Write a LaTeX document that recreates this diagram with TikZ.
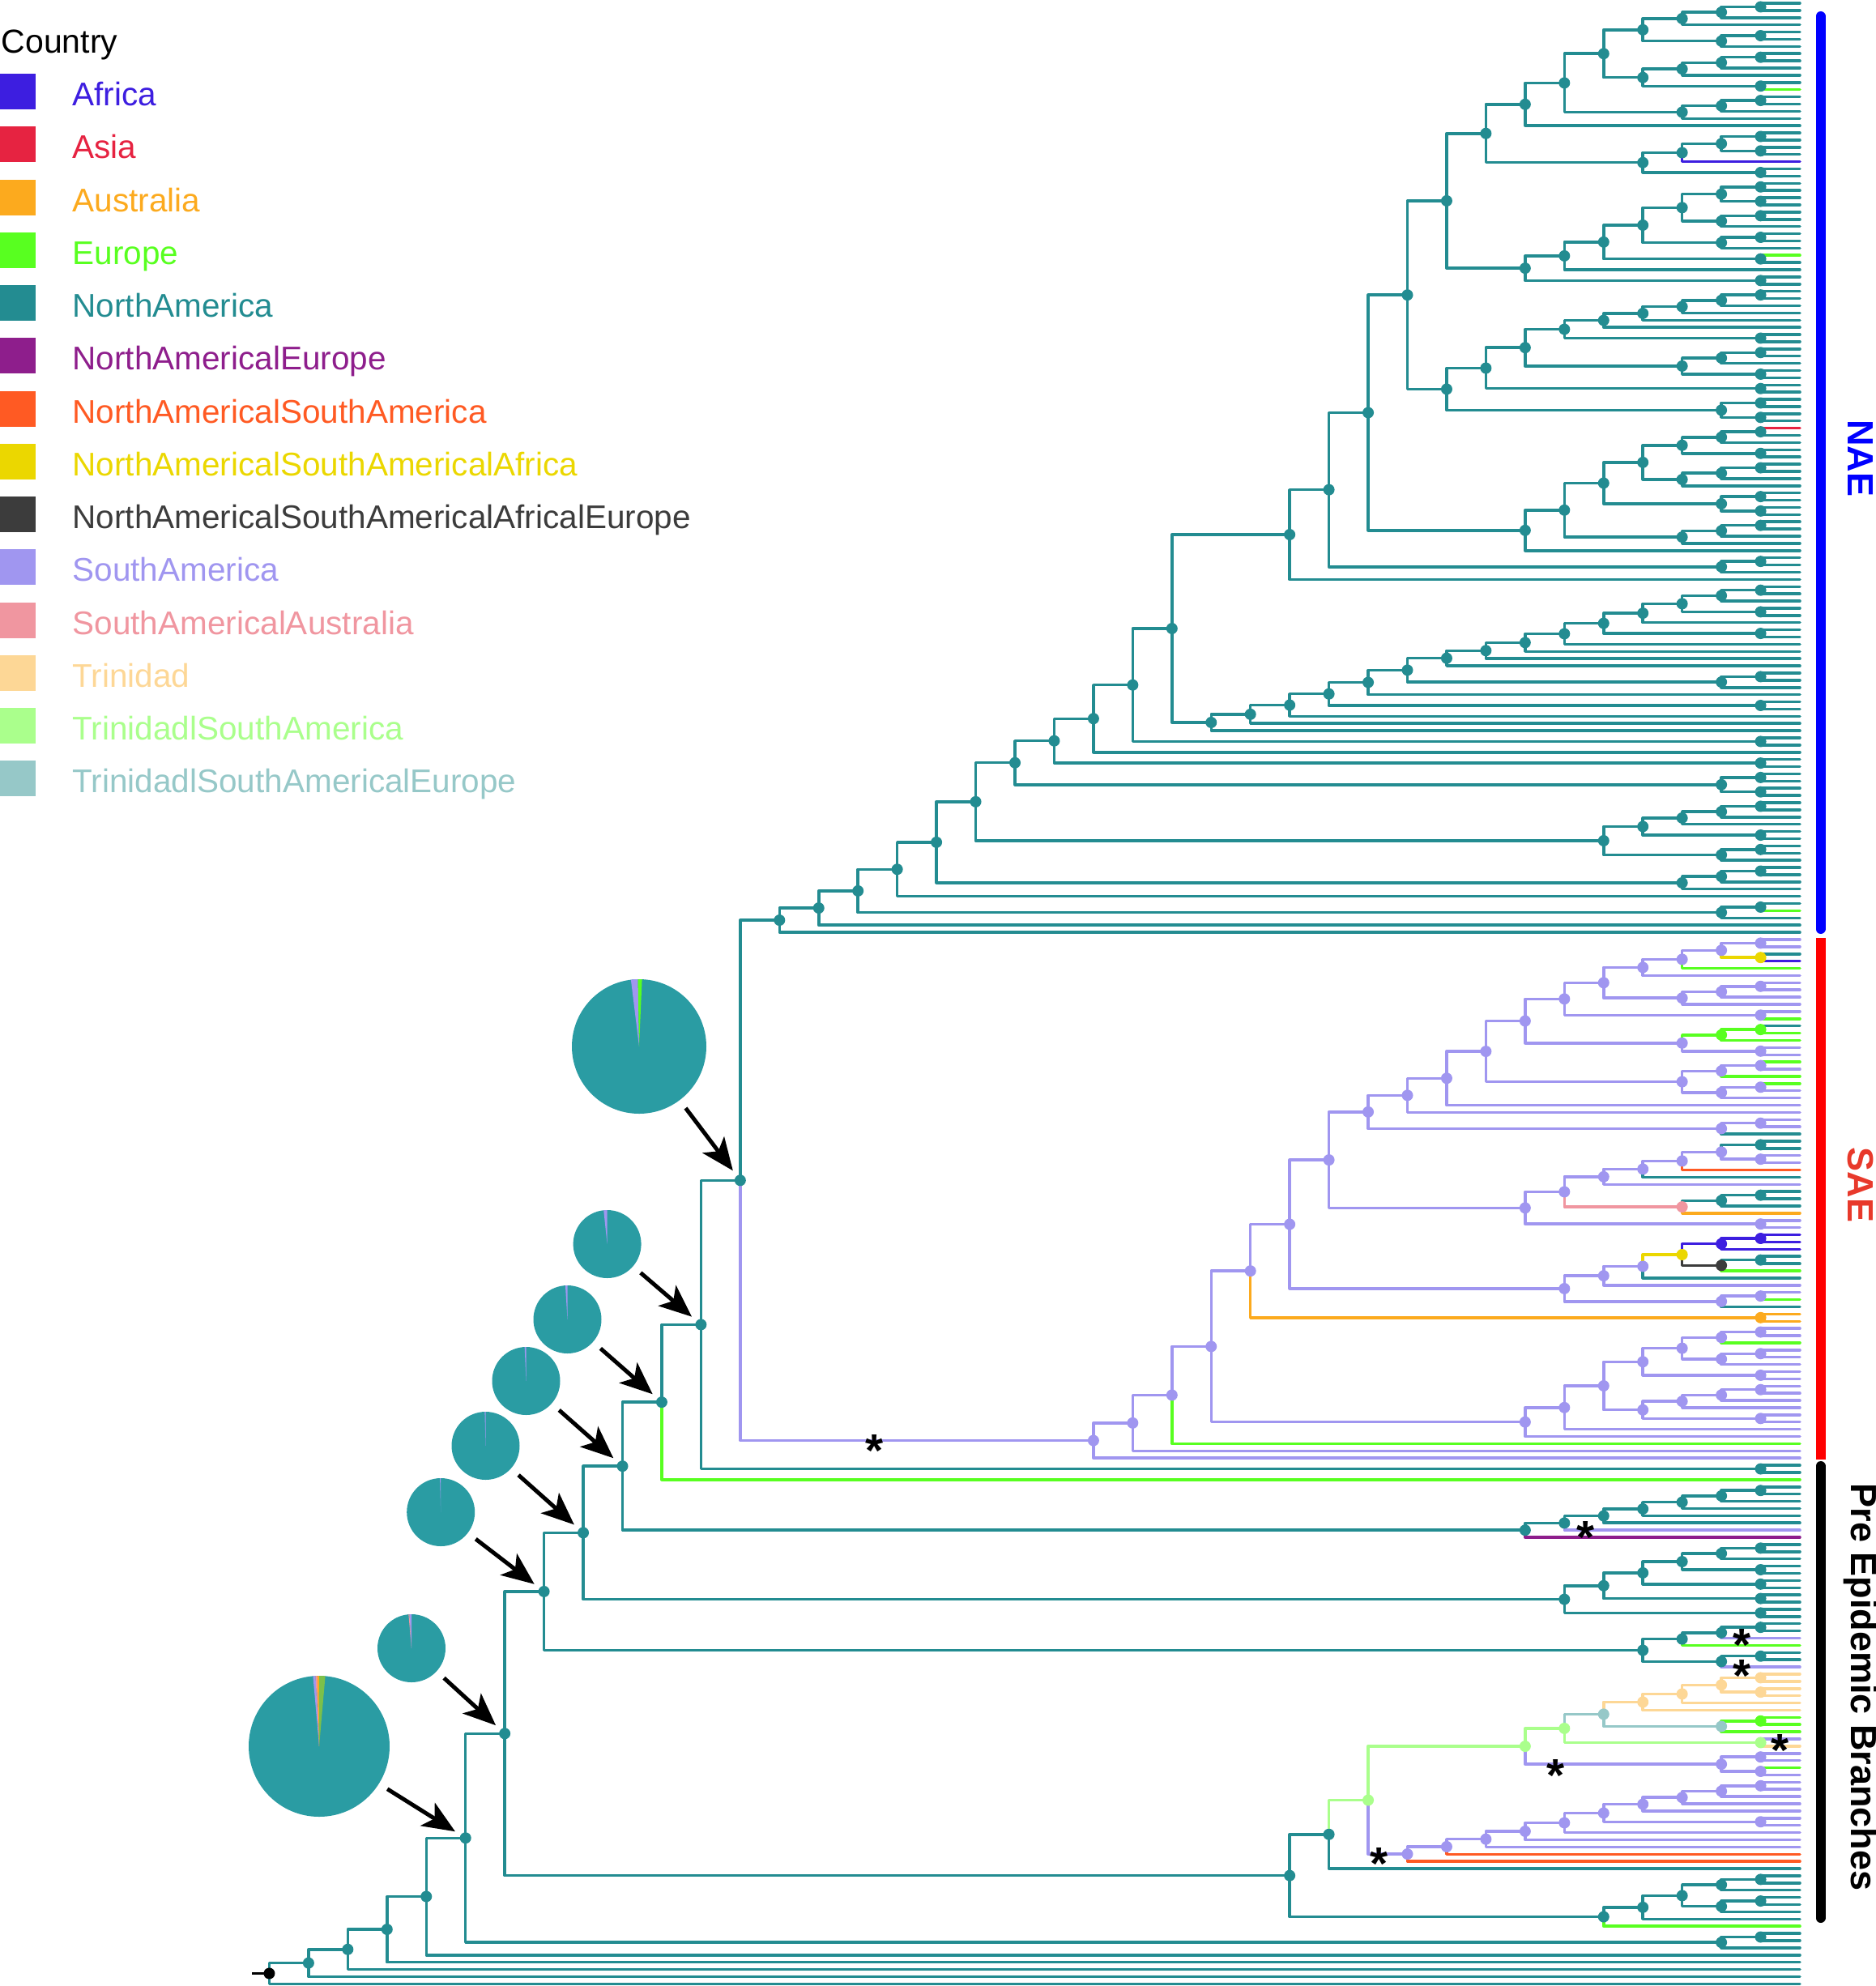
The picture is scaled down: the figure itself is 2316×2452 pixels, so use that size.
\documentclass[tikz,border=0pt]{standalone}
\usepackage{fontspec}
\setmainfont{Liberation Sans}
\usetikzlibrary{arrows.meta}
\definecolor{colB}{HTML}{3D1EE0}
\definecolor{colA}{HTML}{E62341}
\definecolor{colO}{HTML}{FCAA1E}
\definecolor{colG}{HTML}{58FF20}
\definecolor{colT}{HTML}{238C91}
\definecolor{colM}{HTML}{8E1E8C}
\definecolor{colR}{HTML}{FF5A23}
\definecolor{colY}{HTML}{EBD700}
\definecolor{colK}{HTML}{3C3C3C}
\definecolor{colP}{HTML}{A096F0}
\definecolor{colS}{HTML}{F096A0}
\definecolor{colD}{HTML}{FDD796}
\definecolor{colL}{HTML}{AAFF8C}
\definecolor{colE}{HTML}{96C8C8}
\definecolor{pieT}{HTML}{2A9CA3}
\definecolor{pieG}{HTML}{7CC04A}
\definecolor{naeC}{HTML}{0000FF}
\definecolor{saeC}{HTML}{E8392B}

\newcount\tipcnt
\newcount\nodecnt
% tip
\def\Tp#1{%
  \global\advance\tipcnt by 1
  \global\advance\nodecnt by 1
  \xdef\rY{\the\tipcnt}\xdef\rL{0}\xdef\rC{#1}\xdef\rN{n\the\nodecnt}%
  \coordinate (\rN) at (2222,{4+8.892*(\rY-1)});%
}
% internal node
\def\Nd#1#2#3{%
  \begingroup
  #2%
  \let\ya\rY \let\la\rL \let\ca\rC \let\na\rN
  #3%
  \let\yb\rY \let\lb\rL \let\cb\rC \let\nb\rN
  \pgfmathsetmacro\ny{(\ya+\yb)/2}%
  \pgfmathtruncatemacro\nl{max(\la,\lb)+1}%
  \global\advance\nodecnt by 1
  \edef\nn{n\the\nodecnt}%
  \coordinate (\nn) at ({2222-48.45*\nl},{4+8.892*(\ny-1)});%
  \draw[br,color=\ca] (\nn) |- (\na);%
  \draw[br,color=\cb] (\nn) |- (\nb);%
  \fill[color=#1] (\nn) circle[radius=2.1pt];%
  \xdef\rY{\ny}\xdef\rL{\nl}\xdef\rC{#1}\xdef\rN{\nn}%
  \endgroup}
\def\Name#1#2{#2\coordinate (#1) at (\rN);}
\def\Ch#1#2#3{\Nd{#1}{\Tp{#2}}{\Tp{#3}}}
\def\tT{\Tp{colT}}\def\tP{\Tp{colP}}\def\tG{\Tp{colG}}\def\tB{\Tp{colB}}
\def\tR{\Tp{colR}}\def\tM{\Tp{colM}}\def\tO{\Tp{colO}}\def\tD{\Tp{colD}}
\def\nT{\Nd{colT}}\def\nP{\Nd{colP}}\def\nG{\Nd{colG}}
\def\cT{\Ch{colT}{colT}{colT}}\def\cP{\Ch{colP}{colP}{colP}}
\def\lT{\nT\cT\tT}\def\lP{\nP\cP\tP}

% ---------- NAE ----------
\def\sA{\nT{\nT\lT\tT}{\lT}}
\def\sB{\nT{\nT\lT\tT}{\Ch{colT}{colT}{colG}}}
\def\sC{\nT{\nT{\nT\sA\sB}{\nT\lT\tT}}{\tT}}
\def\sD{\nT{\nT{\nT\cT\cT}{\tB}}{\cT}}
\def\sE{\nT{\nT{\nT{\nT{\nT{\nT\cT\cT}{\lT}}{\lT}}{\Ch{colT}{colG}{colT}}}{\tT}}{\cT}}
\def\sF{\nT{\sC}{\sD}}
\def\sG{\nT{\sF}{\sE}}
\def\sH{\nT{\nT{\nT{\nT{\nT{\nT\lT\tT}\tT}\tT}\cT}{\nT\lT\cT}}{\cT}}
\def\sI{\nT{\sH}{\nT\cT\cT}}
\def\sJ{\nT{\sG}{\sI}}
\def\sK{\nT{\nT{\nT{\nT{\nT{\Ch{colT}{colA}{colT}}\tT}\cT}{\nT\lT\tT}}{\nT\cT\cT}}{\nT\lT\tT}}
\def\sL{\nT{\nT{\nT{\sJ}{\nT{\sK}\tT}}{\lT}}{\tT}}
\def\sM{\nT{\nT{\nT{\nT{\nT{\nT{\nT{\nT{\nT{\nT\lT\cT}\tT}\cT}\tT}\tT}\tT}\tT}{\lT}}{\tT}}{\cT}}
\def\sN{\nT{\nT{\nT{\sM}\tT}\tT}\tT}
\def\sO{\nT{\sL}{\sN}}
\def\sP{\nT{\nT{\nT\lT\tT}\cT}{\lT}}
\def\NAE{\nT{\nT{\nT{\nT{\nT{\nT{\nT{\nT{\nT{\nT{\sO}\cT}\tT}\cT}{\nT\cT\cT}}{\sP}}{\nT\lT\tT}}\tT}{\nT{\Ch{colT}{colT}{colG}}\tT}}\tT}\tT}

% ---------- SAE ----------
\def\sa{\nP{\nP{\nP{\nP{\cP}{\Ch{colY}{colT}{colB}}}{\tG}}{\tP}}{\nP\lP\tP}}
\def\sb{\nP{\nP{\nP{\sa}{\Ch{colP}{colP}{colG}}}{\nP{\nG{\Ch{colG}{colT}{colG}}\tG}{\cP}}}{\nP{\nP{\Ch{colP}{colG}{colP}}\tG}{\nP{\Ch{colP}{colG}{colP}}\tP}}}
\def\sc{\nP{\nP{\nP{\sb}\tP}\tP}{\nP\cP\tT}}
\def\sd{\nP{\nP{\nP{\nP{\nP{\nP{\cT}{\cP}}\tR}\tT}\tP}{\Nd{colS}{\nT\cT\tT}{\tO}}}{\cP}}
\def\se{\nP{\nP{\nP{\Nd{colY}{\Nd{colB}{\Ch{colB}{colB}{colB}}{\tB}}{\Nd{colK}{\cT}{\tG}}}{\tT}}{\tP}}{\nP{\Ch{colP}{colP}{colG}}{\tT}}}
\def\sf{\nP{\nP{\nP{\nP{\nP{\nP\cP\tG}{\lP}}{\cP}}{\nP{\nP{\lP}{\tP}}{\cP}}}{\tP}}{\tP}}
\def\SAE{\nP{\nP{\nP{\nP{\nP{\nP{\nP{\sc}{\sd}}{\se}}{\Ch{colO}{colO}{colO}}}{\sf}}{\tG}}{\tP}}{\tP}}

% ---------- pre-epidemic ----------
\def\pA{\nT{\nT{\nT{\nT{\nT\lT\tT}\tT}\tT}\tP}{\tM}}
\def\pB{\nT{\nT{\nT{\nT\lT\cT}\cT}\cT}\cT}
\def\pC{\nT{\nT{\nT\cT\tP}\tG}{\nT\cT\tP}}
\def\pDa{\Nd{colD}{\Nd{colD}{\Nd{colD}{\Ch{colD}{colD}{colD}}{\Ch{colD}{colD}{colD}}}{\tD}}{\tD}}
\def\pDb{\Nd{colE}{\pDa}{\Nd{colE}{\Ch{colG}{colG}{colG}}{\tG}}}
\def\pDc{\Nd{colL}{\Nd{colL}{\pDb}{\Ch{colL}{colP}{colD}}}{\nP{\cP}{\Ch{colP}{colG}{colP}}}}
\def\pDd{\nP{\nP{\nP{\nP{\nP{\nP{\nP{\nP\lP\tP}\tP}\cP}\tP}\tP}\tP}\tR}\tR}
\def\pD{\nT{\nT{\Nd{colL}{\pDc}{\pDd}}{\tT}}{\nT{\nT{\nT\lT\lT}\tT}\tG}}

\def\bA{\Name{bb27}{\nT{\NAE}{\SAE}}}
\def\bB{\Name{bb28}{\nT{\bA}{\cT}}}
\def\bC{\Name{bb29}{\nT{\bB}{\tG}}}
\def\bD{\Name{bb30}{\nT{\bC}{\pA}}}
\def\bE{\Name{bb31}{\nT{\bD}{\pB}}}
\def\bF{\Name{bb32}{\nT{\bE}{\pC}}}
\def\bG{\Name{bb33}{\nT{\bF}{\pD}}}
\def\bH{\Name{bb34}{\nT{\bG}{\lT}}}
\def\bI{\Name{root}{\Nd{black}{\nT{\nT{\nT{\nT{\bH}\tT}\tT}\tT}\tT}{\tT}}}

\begin{document}
\begin{tikzpicture}[x=0.3pt,y=-0.3pt,
  br/.style={line width=1.05pt,line cap=round,line join=round},
  arr/.style={line width=1.5pt,-{Stealth[length=12pt,width=10pt,inset=3pt]},shorten <=3.5pt,shorten >=4.5pt},
  ast/.style={font=\bfseries\fontsize{17}{17}\selectfont,inner sep=0pt,anchor=base},
  leg/.style={font=\fontsize{12.15}{14}\selectfont,inner sep=0pt,anchor=base west},
  lab/.style={font=\bfseries\fontsize{13.5}{16}\selectfont,rotate=-90,inner sep=0pt},
  pie/.style={circle,fill=pieT,inner sep=0pt}]
\useasboundingbox (0,0) rectangle (2316,2452);

% tree
\bI
\draw[line width=1.05pt] (root) -- ++(-21,0);

% clade bars and labels
\draw[naeC,line width=3.6pt,line cap=round] (2247.5,20) -- (2247.5,1147);
\draw[red,line width=3.6pt] (2247.5,1158) -- (2247.5,1802);
\draw[black,line width=3.6pt,line cap=round] (2247.5,1810) -- (2247.5,2368);
\node[lab,text=naeC] (nae) at (2297,566) {NAE};
\node[lab,text=saeC] (sae) at (2297,1463) {SAE};
\node[lab,text=black] (pre) at (2297,2083) {Pre Epidemic Branches};

% asterisks
\foreach \ax/\ay [count=\k] in {1080/1778,1957.8/1885,2151/2018,2151/2056.7,2197.6/2148,1920.9/2179,1703/2288}{
  \node[ast] (ast\k) at (\ax,\ay+32) {*};
}

% pies
\node[pie,minimum size=49.8pt] (pie1) at (789,1292) {};
\fill[colP] (pie1.center) -- ++(91:24.9pt) arc[start angle=91,end angle=97,radius=24.9pt] -- cycle;
\fill[colG] (pie1.center) -- ++(87.5:24.9pt) arc[start angle=87.5,end angle=91,radius=24.9pt] -- cycle;
\node[pie,minimum size=25.2pt] (pie2) at (749.6,1536) {};
\fill[colP] (pie2.center) -- ++(90:12.6pt) arc[start angle=90,end angle=96,radius=12.6pt] -- cycle;
\node[pie,minimum size=25.2pt] (pie3) at (700.5,1629) {};
\fill[colP] (pie3.center) -- ++(90:12.6pt) arc[start angle=90,end angle=93.5,radius=12.6pt] -- cycle;
\node[pie,minimum size=25.2pt] (pie4) at (649.5,1705) {};
\fill[colP] (pie4.center) -- ++(90:12.6pt) arc[start angle=90,end angle=92.5,radius=12.6pt] -- cycle;
\node[pie,minimum size=25.2pt] (pie5) at (599.5,1785) {};
\fill[colP] (pie5.center) -- ++(90:12.6pt) arc[start angle=90,end angle=91.5,radius=12.6pt] -- cycle;
\node[pie,minimum size=25.2pt] (pie6) at (544.2,1867) {};
\fill[colP] (pie6.center) -- ++(90:12.6pt) arc[start angle=90,end angle=91.5,radius=12.6pt] -- cycle;
\node[pie,minimum size=25.2pt] (pie7) at (508,2035) {};
\fill[colP] (pie7.center) -- ++(90:12.6pt) arc[start angle=90,end angle=93.5,radius=12.6pt] -- cycle;
\fill[colS] (pie7.center) -- ++(93.5:12.6pt) arc[start angle=93.5,end angle=95,radius=12.6pt] -- cycle;
\node[pie,minimum size=52.2pt] (pie8) at (394,2156) {};
\fill[colP] (pie8.center) -- ++(93:26.1pt) arc[start angle=93,end angle=95,radius=26.1pt] -- cycle;
\fill[colS] (pie8.center) -- ++(91.5:26.1pt) arc[start angle=91.5,end angle=93,radius=26.1pt] -- cycle;
\fill[colO] (pie8.center) -- ++(90:26.1pt) arc[start angle=90,end angle=91.5,radius=26.1pt] -- cycle;
\fill[pieG] (pie8.center) -- ++(85:26.1pt) arc[start angle=85,end angle=90,radius=26.1pt] -- cycle;

% arrows
\foreach \p/\b in {1/27,2/28,3/29,4/30,5/31,6/32,7/33,8/34}{
  \draw[arr] (pie\p) -- (bb\b);
}

% legend
\node[font=\fontsize{12.3}{14}\selectfont,inner sep=0pt,anchor=base west] (legtitle) at (1,65) {Country};
\foreach \lab/\col [count=\i from 0] in {Africa/colB,Asia/colA,Australia/colO,Europe/colG,NorthAmerica/colT,NorthAmericalEurope/colM,NorthAmericalSouthAmerica/colR,NorthAmericalSouthAmericalAfrica/colY,NorthAmericalSouthAmericalAfricalEurope/colK,SouthAmerica/colP,SouthAmericalAustralia/colS,Trinidad/colD,TrinidadlSouthAmerica/colL,TrinidadlSouthAmericalEurope/colE}{
  \fill[fill=\col] (0,{91.2+65.25*\i}) rectangle ++(44,44);
  \node[leg,text=\col] (leg\i) at (89,{130.5+65.25*\i}) {\lab};
}
\end{tikzpicture}
\end{document}
